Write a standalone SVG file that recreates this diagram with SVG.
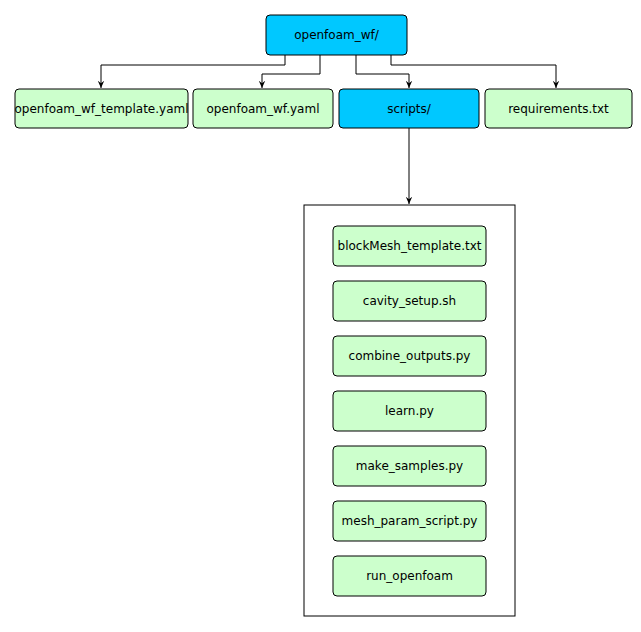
<svg xmlns="http://www.w3.org/2000/svg" width="641" height="632" viewBox="0 0 641 632">
<style>
.b{fill:#00c8ff;stroke:#000;stroke-width:1}
.g{fill:#ccffcc;stroke:#000;stroke-width:1}
text{font-family:"DejaVu Sans",sans-serif;font-size:12px;text-anchor:middle;dominant-baseline:central;fill:#000}
.c{fill:none;stroke:#000;stroke-width:1}
</style>
<defs><marker id="a" viewBox="0 0 10 10" refX="9" refY="5" markerWidth="8" markerHeight="8" orient="auto"><path d="M0,1 L9,5 L0,9 L3,5 Z" fill="#000"/></marker></defs>
<rect width="641" height="632" fill="#fff"/>
<g id="connectors">
<path class="c" d="M285,55 V65 H101 V88" marker-end="url(#a)"/>
<path class="c" d="M320,55 V74 H262 V88" marker-end="url(#a)"/>
<path class="c" d="M356,55 V74 H409 V88" marker-end="url(#a)"/>
<path class="c" d="M391,55 V65 H556 V88" marker-end="url(#a)"/>
<path class="c" d="M409,128 V204" marker-end="url(#a)"/>
</g>
<g id="root"><rect class="b" x="266" y="15" width="141" height="40" rx="4"/><text x="336.5" y="35">openfoam_wf/</text></g>
<g id="n1"><rect class="g" x="15" y="89" width="173" height="39" rx="4"/><text x="101.5" y="108.5">openfoam_wf_template.yaml</text></g>
<g id="n2"><rect class="g" x="193" y="89" width="140" height="39" rx="4"/><text x="263" y="108.5">openfoam_wf.yaml</text></g>
<g id="scripts"><rect class="b" x="339" y="89" width="140" height="39" rx="4"/><text x="409" y="108.5">scripts/</text></g>
<g id="n4"><rect class="g" x="485" y="89" width="147" height="39" rx="4"/><text x="558.5" y="108.5">requirements.txt</text></g>
<g id="container"><rect x="304" y="205" width="211" height="411" fill="#fff" stroke="#000"/></g>
<g id="f1"><rect class="g" x="333" y="226" width="153" height="40" rx="4"/><text x="409.5" y="246">blockMesh_template.txt</text></g>
<g id="f2"><rect class="g" x="333" y="281" width="153" height="40" rx="4"/><text x="409.5" y="301">cavity_setup.sh</text></g>
<g id="f3"><rect class="g" x="333" y="336" width="153" height="40" rx="4"/><text x="409.5" y="356">combine_outputs.py</text></g>
<g id="f4"><rect class="g" x="333" y="391" width="153" height="40" rx="4"/><text x="409.5" y="411">learn.py</text></g>
<g id="f5"><rect class="g" x="333" y="446" width="153" height="40" rx="4"/><text x="409.5" y="466">make_samples.py</text></g>
<g id="f6"><rect class="g" x="333" y="501" width="153" height="40" rx="4"/><text x="409.5" y="521">mesh_param_script.py</text></g>
<g id="f7"><rect class="g" x="333" y="556" width="153" height="40" rx="4"/><text x="409.5" y="576">run_openfoam</text></g>
</svg>
